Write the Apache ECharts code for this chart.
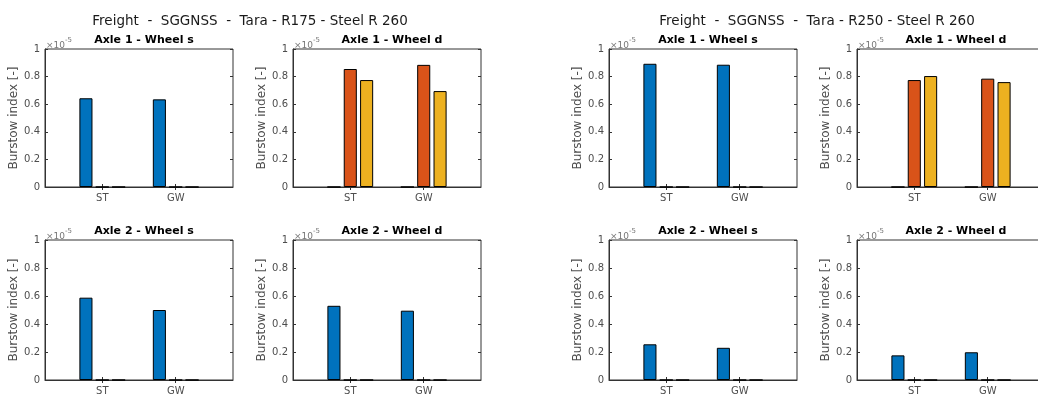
<!DOCTYPE html>
<html>
<head>
<meta charset="utf-8">
<script src="https://cdn.jsdelivr.net/npm/echarts@6/dist/echarts.min.js"></script>
<style>
  html, body { margin: 0; padding: 0; background: #fff; }
  #chart { width: 1038px; height: 399px; }
</style>
</head>
<body>
<div id="chart"></div>
<script>
// Categories on every x axis
const categories = ['ST', 'GW'];
// Group headings (one per rail radius) and subplot titles
const caseTitles = [
  'Freight  -  SGGNSS  -  Tara - R175 - Steel R 260',
  'Freight  -  SGGNSS  -  Tara - R250 - Steel R 260'
];
const panelTitles = ['Axle 1 - Wheel s', 'Axle 1 - Wheel d', 'Axle 2 - Wheel s', 'Axle 2 - Wheel d'];
const yAxisName = 'Burstow index [-]';
const yTicks = [0, 0.2, 0.4, 0.6, 0.8, 1];
const exponentBase = '×10';
const exponentPower = '-5';

// Burstow index values in units of 1e-5, per panel [ST, GW]
// R175 case
const r175Blue   = [[0.643, 0.635], [0, 0], [0.588, 0.50], [0.53, 0.495]];
const r175Orange = [[0, 0], [0.855, 0.885], [0, 0], [0, 0]];
const r175Yellow = [[0, 0], [0.775, 0.695], [0, 0], [0, 0]];
// R250 case
const r250Blue   = [[0.893, 0.886], [0, 0], [0.255, 0.23], [0.176, 0.198]];
const r250Orange = [[0, 0], [0.775, 0.785], [0, 0], [0, 0]];
const r250Yellow = [[0, 0], [0.804, 0.76], [0, 0], [0, 0]];

const caseData = [
  [r175Blue, r175Orange, r175Yellow],
  [r250Blue, r250Orange, r250Yellow]
];
const seriesColors = ['#0072BD', '#D95319', '#EDB120'];

// Layout of the axes boxes
const boxLefts = [45, 293, 609, 857];
const boxWidth = 188;
const rowTops = [49, 240];
const rowHeights = [138, 140];
const caseTitleCenters = [245, 812];
const xMin = 0.22, xMax = 2.78;

const axisColor = '#333333';
const labelColor = '#4d4d4d';
const fontFamily = 'DejaVu Sans';

const grids = [], xAxes = [], yAxes = [], series = [], titles = [], graphics = [];

caseTitles.forEach((t, g) => {
  titles.push({
    text: t, left: caseTitleCenters[g], top: 9, textAlign: 'center',
    textStyle: { fontFamily, fontSize: 13.5, fontWeight: 'normal', color: '#1a1a1a' }
  });
});

caseData.forEach((groupSeries, g) => {
  panelTitles.forEach((pt, p) => {
    const row = Math.floor(p / 2), col = p % 2;
    const left = boxLefts[g * 2 + col];
    const top = rowTops[row], height = rowHeights[row];
    const gi = grids.length;
    grids.push({
      left, top, width: boxWidth, height,
      outerBoundsMode: 'none', containLabel: false,
      show: true, borderColor: axisColor, borderWidth: 1, backgroundColor: '#fff'
    });
    const tickVals = categories.map((c, i) => i + 1);
    // bottom x axis with category labels
    xAxes.push({
      type: 'value', gridIndex: gi, position: 'bottom', min: xMin, max: xMax,
      axisLine: { show: true, lineStyle: { color: axisColor, width: 1 } },
      axisTick: { show: true, inside: true, length: 3, customValues: tickVals, lineStyle: { color: axisColor } },
      axisLabel: {
        show: true, customValues: tickVals, margin: 6,
        formatter: v => categories[Math.round(v) - 1] || '',
        color: labelColor, fontFamily, fontSize: 10
      },
      splitLine: { show: false }
    });
    // top x axis: mirrored ticks only
    xAxes.push({
      type: 'value', gridIndex: gi, position: 'top', min: xMin, max: xMax,
      axisLine: { show: false },
      axisTick: { show: true, inside: true, length: 3, customValues: tickVals, lineStyle: { color: axisColor } },
      axisLabel: { show: false },
      splitLine: { show: false }
    });
    // left y axis with values and name
    yAxes.push({
      type: 'value', gridIndex: gi, position: 'left', min: yTicks[0], max: yTicks[yTicks.length - 1], interval: 0.2,
      axisLine: { show: true, lineStyle: { color: axisColor, width: 1 } },
      axisTick: { show: true, inside: true, length: 3, lineStyle: { color: axisColor } },
      axisLabel: { color: labelColor, fontFamily, fontSize: 10, margin: 5 },
      splitLine: { show: false },
      name: yAxisName, nameLocation: 'middle', nameGap: 24,
      nameTextStyle: { color: labelColor, fontFamily, fontSize: 12 }
    });
    // right y axis: mirrored ticks only
    yAxes.push({
      type: 'value', gridIndex: gi, position: 'right', min: yTicks[0], max: yTicks[yTicks.length - 1], interval: 0.2,
      axisLine: { show: false },
      axisTick: { show: true, inside: true, length: 3, lineStyle: { color: axisColor } },
      axisLabel: { show: false },
      splitLine: { show: false }
    });
    groupSeries.forEach((s, k) => {
      series.push({
        type: 'bar', xAxisIndex: gi * 2, yAxisIndex: gi * 2,
        data: s[p].map((v, i) => [i + 1, v]),
        barWidth: '17.8%', barGap: '25%',
        itemStyle: { color: seriesColors[k], borderColor: '#000', borderWidth: 1 },
        silent: true, animation: false
      });
    });
    titles.push({
      text: pt, left: left + boxWidth / 2, top: top - 19, textAlign: 'center',
      textStyle: { fontFamily, fontSize: 11, fontWeight: 'bold', color: '#000' }
    });
    graphics.push({
      type: 'text', left: left + 1, top: top - 12,
      style: {
        text: '{a|' + exponentBase + '}{b|' + exponentPower + '}',
        rich: {
          a: { fontFamily, fontSize: 9, fill: '#777', verticalAlign: 'bottom' },
          b: { fontFamily, fontSize: 7, fill: '#777', verticalAlign: 'top', padding: [0, 0, 6, 0] }
        }
      }
    });
  });
});

const chart = echarts.init(document.getElementById('chart'), null, { renderer: 'canvas' });
chart.setOption({
  animation: false,
  backgroundColor: '#fff',
  title: titles,
  grid: grids,
  xAxis: xAxes,
  yAxis: yAxes,
  series,
  graphic: graphics
});
</script>
</body>
</html>
